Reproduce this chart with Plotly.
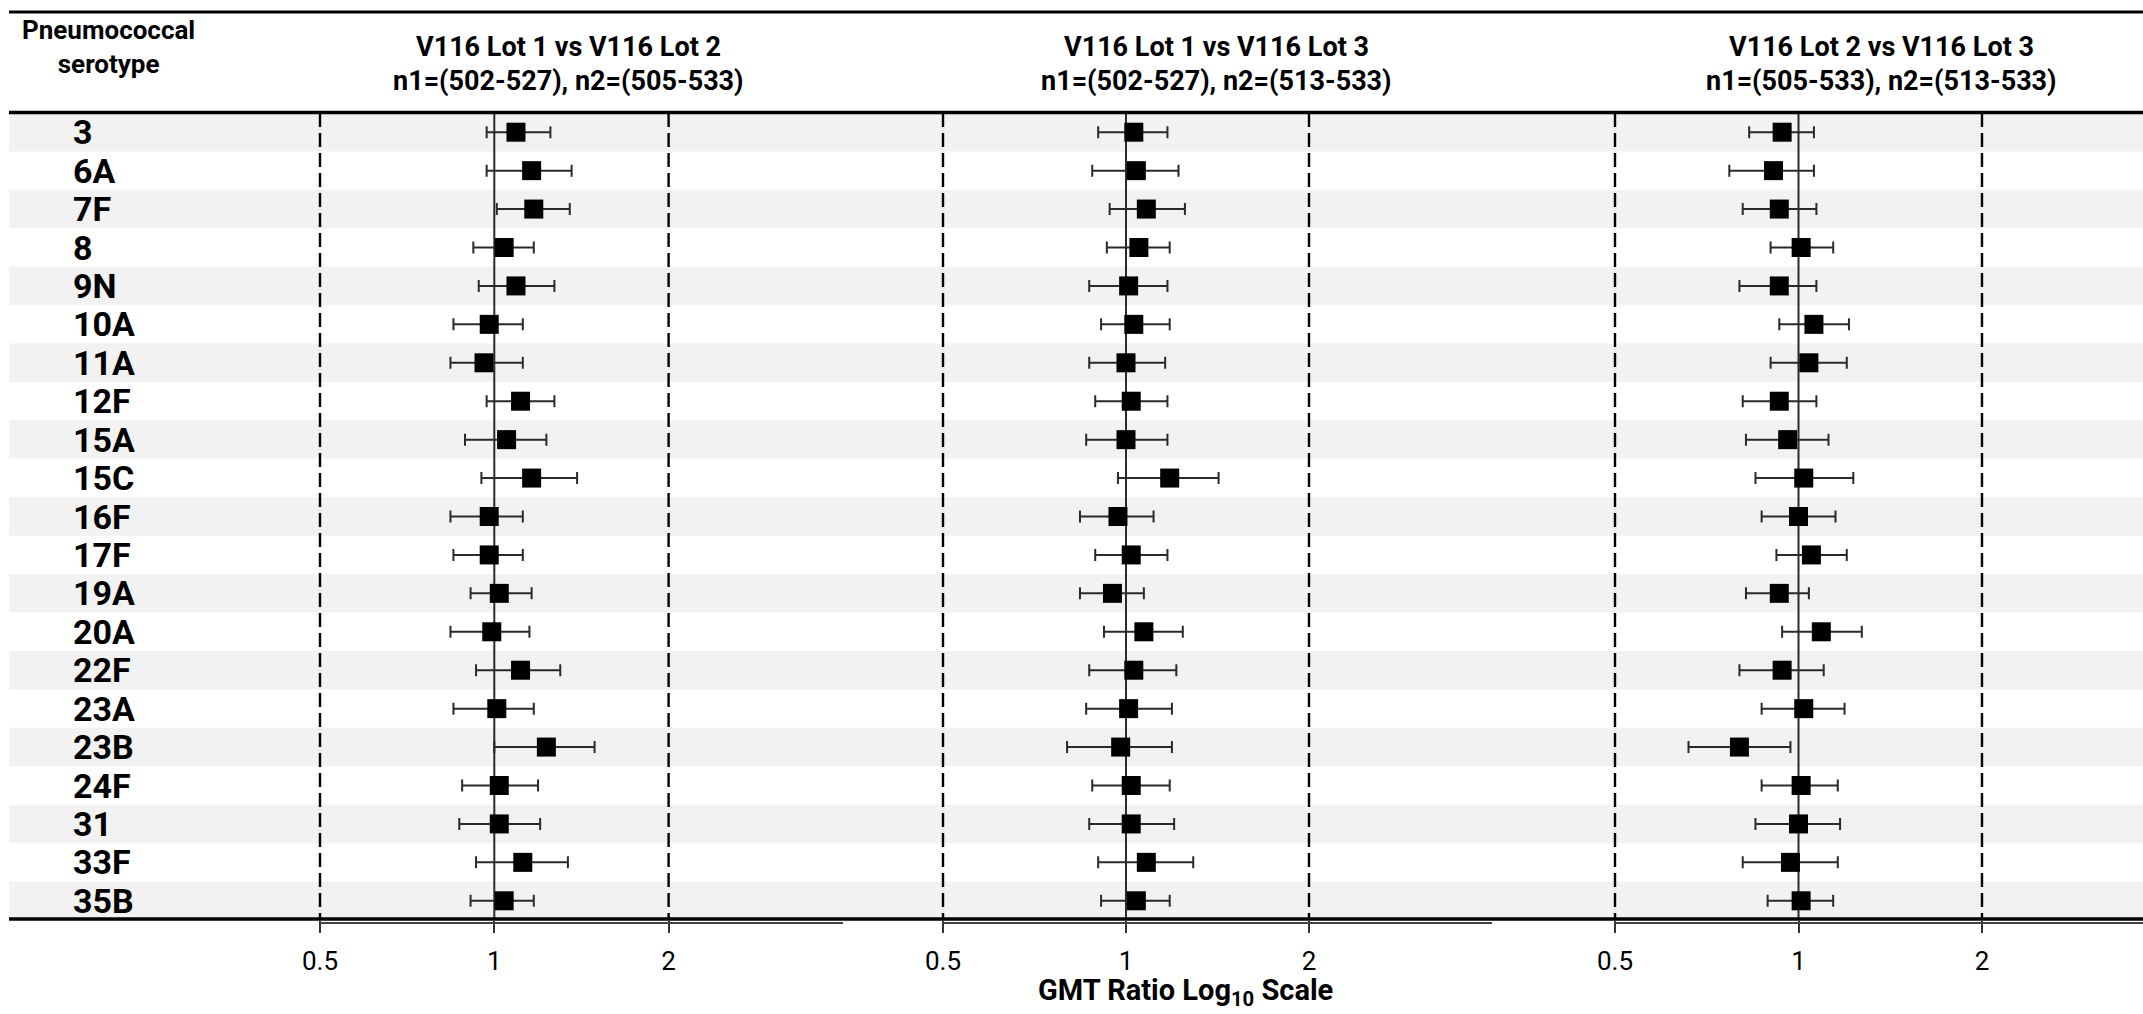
import math
import plotly.graph_objects as go

serotypes = ['3', '6A', '7F', '8', '9N', '10A', '11A', '12F', '15A', '15C', '16F',
             '17F', '19A', '20A', '22F', '23A', '23B', '24F', '31', '33F', '35B']

p1_gmt = [1.09, 1.16, 1.17, 1.04, 1.09, 0.98, 0.96, 1.11, 1.05, 1.16, 0.98,
          0.98, 1.02, 0.99, 1.11, 1.01, 1.23, 1.02, 1.02, 1.12, 1.04]
p1_lo = [0.97, 0.97, 1.01, 0.92, 0.94, 0.85, 0.84, 0.97, 0.89, 0.95, 0.84,
         0.85, 0.91, 0.84, 0.93, 0.85, 1.00, 0.88, 0.87, 0.93, 0.91]
p1_hi = [1.25, 1.36, 1.35, 1.17, 1.27, 1.12, 1.12, 1.27, 1.23, 1.39, 1.12,
         1.12, 1.16, 1.15, 1.30, 1.17, 1.49, 1.19, 1.20, 1.34, 1.17]

p2_gmt = [1.03, 1.04, 1.08, 1.05, 1.01, 1.03, 1.00, 1.02, 1.00, 1.18, 0.97,
          1.02, 0.95, 1.07, 1.03, 1.01, 0.98, 1.02, 1.02, 1.08, 1.04]
p2_lo = [0.90, 0.88, 0.94, 0.93, 0.87, 0.91, 0.87, 0.89, 0.86, 0.97, 0.84,
         0.89, 0.84, 0.92, 0.87, 0.86, 0.80, 0.88, 0.87, 0.90, 0.91]
p2_hi = [1.17, 1.22, 1.25, 1.18, 1.17, 1.18, 1.16, 1.17, 1.17, 1.42, 1.11,
         1.17, 1.07, 1.24, 1.21, 1.19, 1.19, 1.18, 1.20, 1.29, 1.18]

p3_gmt = [0.94, 0.91, 0.93, 1.01, 0.93, 1.06, 1.04, 0.93, 0.96, 1.02, 1.00,
          1.05, 0.93, 1.09, 0.94, 1.02, 0.80, 1.01, 1.00, 0.97, 1.01]
p3_lo = [0.83, 0.77, 0.81, 0.90, 0.80, 0.93, 0.90, 0.81, 0.82, 0.85, 0.87,
         0.92, 0.82, 0.94, 0.80, 0.87, 0.66, 0.87, 0.85, 0.81, 0.89]
p3_hi = [1.06, 1.06, 1.07, 1.14, 1.07, 1.21, 1.20, 1.07, 1.12, 1.23, 1.15,
         1.20, 1.04, 1.27, 1.10, 1.19, 0.97, 1.16, 1.17, 1.16, 1.14]

panel_titles = ['V116 Lot 1 vs V116 Lot 2', 'V116 Lot 1 vs V116 Lot 3', 'V116 Lot 2 vs V116 Lot 3']
panel_ns = ['n1=(502-527), n2=(505-533)', 'n1=(502-527), n2=(513-533)', 'n1=(505-533), n2=(513-533)']
tick_vals = [0.5, 1, 2]
tick_text = ['0.5', '1', '2']
ref_low, ref_mid, ref_high = 0.5, 1, 2

W, H = 2143, 1014
T, B = 113, 94
PH = H - T - B
FONT = 'Roboto, Arial, sans-serif'
LG2 = math.log10(2)

def py(px):
    return (H - B - px) / PH

def pxx(px):
    return px / W

# panel geometry (pixels): position of 0.5, pixels per doubling, right end
geo = [(320, 174.3, 843), (943, 183.0, 1492), (1615, 183.5, W)]
PADL = 5

n = len(serotypes)
ypos = list(range(n))

panels = [(p1_gmt, p1_lo, p1_hi), (p2_gmt, p2_lo, p2_hi), (p3_gmt, p3_lo, p3_hi)]
axes = ['x', 'x2', 'x3']

fig = go.Figure()
for k, (g, lo, hi) in enumerate(panels):
    ax = axes[k]
    for v in (ref_low, ref_high):
        fig.add_trace(go.Scatter(
            x=[v, v], y=[-0.5, n - 0.5], mode='lines', xaxis=ax, yaxis='y',
            line=dict(color='#000000', width=2.4, dash='14px,6px'),
            hoverinfo='skip', showlegend=False))
    fig.add_trace(go.Scatter(
        x=[ref_mid, ref_mid], y=[-0.5, n - 0.5], mode='lines', xaxis=ax, yaxis='y',
        line=dict(color='#2b2b2b', width=2),
        hoverinfo='skip', showlegend=False))
    fig.add_trace(go.Scatter(
        x=g, y=ypos, mode='markers', xaxis=ax, yaxis='y',
        marker=dict(symbol='square', size=19, color='#000000'),
        error_x=dict(type='data', symmetric=False,
                     array=[h - v for h, v in zip(hi, g)],
                     arrayminus=[v - l for v, l in zip(g, lo)],
                     color='#2a2a2a', thickness=2, width=6),
        showlegend=False, cliponaxis=False))

shapes = []
for i in range(0, n, 2):
    shapes.append(dict(type='rect', xref='paper', yref='paper',
                       x0=pxx(9), x1=1, y0=1 - (i + 1) / n, y1=1 - i / n,
                       fillcolor='#f2f2f2', line=dict(width=0), layer='below'))
shapes.append(dict(type='line', xref='paper', yref='paper', x0=pxx(9), x1=1,
                   y0=py(12), y1=py(12), line=dict(color='#000', width=3)))
shapes.append(dict(type='line', xref='paper', yref='paper', x0=pxx(9), x1=1,
                   y0=py(112.5), y1=py(112.5), line=dict(color='#000', width=3.5)))
shapes.append(dict(type='line', xref='paper', yref='paper', x0=pxx(9), x1=1,
                   y0=py(919), y1=py(919), line=dict(color='#000', width=3.5)))
for (p05, unit, end) in geo:
    shapes.append(dict(type='line', xref='paper', yref='paper', x0=pxx(p05), x1=pxx(end),
                       y0=py(923), y1=py(923), line=dict(color='#444', width=2)))

annotations = []
for i, s in enumerate(serotypes):
    annotations.append(dict(text=s, xref='paper', yref='y', x=pxx(71), y=i,
                            xanchor='left', yanchor='middle', showarrow=False,
                            font=dict(family=FONT, size=34, color='#000', weight='bold')))
annotations.append(dict(text='Pneumococcal<br>serotype', xref='paper', yref='paper',
                        x=pxx(108), y=py(47), xanchor='center', yanchor='middle',
                        showarrow=False, align='center',
                        font=dict(family=FONT, size=26, color='#000', weight='bold')))
title_x = [568, 1216, 1881]
for k in range(3):
    annotations.append(dict(text=panel_titles[k], xref='paper', yref='paper',
                            x=pxx(title_x[k]), y=py(47), xanchor='center', yanchor='middle',
                            showarrow=False,
                            font=dict(family=FONT, size=27, color='#000', weight='bold')))
    annotations.append(dict(text=panel_ns[k], xref='paper', yref='paper',
                            x=pxx(title_x[k]), y=py(81), xanchor='center', yanchor='middle',
                            showarrow=False,
                            font=dict(family=FONT, size=27, color='#000', weight='bold')))
annotations.append(dict(text='GMT Ratio Log<sub>10</sub> Scale', xref='paper', yref='paper',
                        x=pxx(1185), y=py(992), xanchor='center', yanchor='middle',
                        showarrow=False,
                        font=dict(family=FONT, size=29, color='#000', weight='bold')))

xaxis_common = dict(type='log', tickvals=tick_vals, ticktext=tick_text, showgrid=False,
                    zeroline=False, showline=False, ticks='outside', ticklen=12,
                    tickwidth=1.5, tickcolor='#333', anchor='y', automargin=False,
                    tickfont=dict(family=FONT, size=26, color='#000'),
                    ticklabelstandoff=6, fixedrange=True)

layout_axes = {}
for k, (p05, unit, end) in enumerate(geo):
    d0 = p05 - PADL
    r0 = math.log10(0.5) - PADL / unit * LG2
    r1 = r0 + (end - d0) / unit * LG2
    name = 'xaxis' if k == 0 else 'xaxis%d' % (k + 1)
    layout_axes[name] = dict(domain=[pxx(d0), min(1.0, pxx(end))], range=[r0, r1], **xaxis_common)

fig.update_layout(
    template='none',
    width=W, height=H,
    margin=dict(l=0, r=0, t=T, b=B, pad=0, autoexpand=False),
    paper_bgcolor='white', plot_bgcolor='rgba(0,0,0,0)',
    yaxis=dict(range=[n - 0.5, -0.5], showticklabels=False, showgrid=False,
               zeroline=False, showline=False, ticks='', fixedrange=True, automargin=False),
    shapes=shapes, annotations=annotations, showlegend=False,
    **layout_axes,
)

fig.write_html('out.html')
